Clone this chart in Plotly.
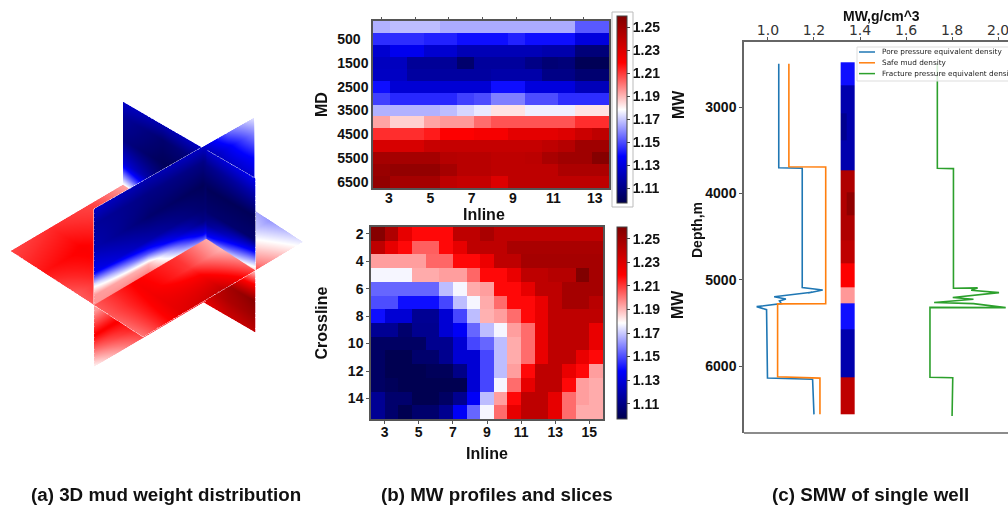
import plotly.graph_objects as go

W, H = 1008, 506
def px(x): return x / W
def py(y): return 1 - y / H

SEISMIC = [[0, "rgb(0,0,77)"], [0.25, "rgb(0,0,255)"], [0.5, "rgb(255,255,255)"], [0.75, "rgb(255,0,0)"], [1, "rgb(128,0,0)"]]
ZMIN, ZMAX = 1.097, 1.26
CB_TICKS = [1.11, 1.13, 1.15, 1.17, 1.19, 1.21, 1.23, 1.25]
FONT = "Liberation Sans"

# ---- panel (b) upper: MW by MD and inline
md = [0, 500, 1000, 1500, 2000, 2500, 3000, 3500, 4000, 4500, 5000, 5500, 6000, 6500]
profile_mw = [
 [1.166,1.168,1.168,1.168,1.165,1.165,1.165,1.165,1.165,1.165,1.165,1.165,1.152,1.152],
 [1.145,1.145,1.145,1.143,1.143,1.14,1.14,1.14,1.143,1.14,1.14,1.14,1.13,1.13],
 [1.127,1.134,1.134,1.127,1.127,1.121,1.121,1.121,1.121,1.121,1.119,1.119,1.107,1.107],
 [1.123,1.123,1.114,1.114,1.114,1.104,1.115,1.115,1.115,1.11,1.106,1.107,1.099,1.099],
 [1.124,1.124,1.116,1.116,1.116,1.116,1.116,1.118,1.118,1.118,1.11,1.11,1.105,1.105],
 [1.14,1.128,1.128,1.128,1.128,1.128,1.128,1.14,1.14,1.13,1.13,1.13,1.122,1.122],
 [1.148,1.144,1.144,1.144,1.144,1.148,1.15,1.158,1.158,1.15,1.15,1.145,1.145,1.145],
 [1.166,1.166,1.166,1.166,1.168,1.172,1.175,1.183,1.183,1.176,1.176,1.176,1.183,1.183],
 [1.193,1.186,1.186,1.193,1.195,1.195,1.202,1.206,1.206,1.206,1.206,1.206,1.212,1.212],
 [1.212,1.212,1.212,1.215,1.22,1.22,1.222,1.222,1.228,1.228,1.228,1.23,1.236,1.24],
 [1.232,1.232,1.232,1.237,1.238,1.238,1.238,1.238,1.238,1.238,1.24,1.243,1.25,1.25],
 [1.248,1.248,1.248,1.248,1.243,1.242,1.242,1.24,1.24,1.241,1.247,1.25,1.25,1.258],
 [1.252,1.254,1.254,1.254,1.248,1.242,1.242,1.24,1.24,1.24,1.24,1.246,1.246,1.246],
 [1.254,1.248,1.248,1.248,1.24,1.238,1.238,1.23,1.24,1.24,1.24,1.24,1.24,1.24],
]
profile_cols = list(range(14))
profile_tick_cols = [0.45, 2.9, 5.35, 7.8, 10.2, 12.65]
profile_tick_text = ["3", "5", "7", "9", "11", "13"]
md_ticks = [500, 1500, 2500, 3500, 4500, 5500, 6500]
md_tick_text = ["500\u00a0\u00a0", "1500", "2500", "3500", "4500", "5500", "6500"]

# ---- panel (b) lower: MW by crossline and inline
crossline = list(range(2, 16))
slice_cols = list(range(17))
slice_mw = [
 [1.258,1.245,1.227,1.218,1.218,1.218,1.24,1.24,1.247,1.24,1.24,1.24,1.24,1.24,1.24,1.24,1.24],
 [1.24,1.227,1.218,1.204,1.204,1.218,1.227,1.24,1.24,1.24,1.247,1.247,1.247,1.247,1.247,1.247,1.247],
 [1.194,1.194,1.194,1.194,1.203,1.203,1.218,1.218,1.225,1.24,1.24,1.248,1.248,1.248,1.248,1.248,1.248],
 [1.177,1.177,1.177,1.192,1.192,1.194,1.194,1.203,1.218,1.218,1.226,1.24,1.24,1.243,1.243,1.26,1.248],
 [1.154,1.154,1.154,1.154,1.154,1.168,1.177,1.192,1.194,1.218,1.218,1.227,1.24,1.24,1.248,1.248,1.248],
 [1.15,1.15,1.14,1.14,1.14,1.149,1.168,1.177,1.192,1.202,1.218,1.218,1.226,1.24,1.248,1.248,1.242],
 [1.14,1.128,1.128,1.113,1.113,1.128,1.149,1.168,1.191,1.194,1.202,1.218,1.226,1.24,1.24,1.24,1.24],
 [1.113,1.113,1.104,1.112,1.112,1.128,1.136,1.154,1.168,1.177,1.194,1.202,1.226,1.24,1.24,1.24,1.226],
 [1.102,1.102,1.102,1.102,1.112,1.112,1.128,1.149,1.154,1.168,1.192,1.202,1.226,1.24,1.24,1.24,1.226],
 [1.102,1.098,1.098,1.104,1.104,1.112,1.128,1.128,1.149,1.168,1.192,1.202,1.226,1.24,1.24,1.226,1.218],
 [1.102,1.098,1.098,1.098,1.1,1.1,1.11,1.128,1.149,1.168,1.194,1.218,1.24,1.24,1.226,1.218,1.194],
 [1.102,1.1,1.098,1.098,1.098,1.098,1.098,1.128,1.149,1.177,1.202,1.227,1.24,1.24,1.218,1.194,1.192],
 [1.113,1.104,1.104,1.098,1.098,1.102,1.112,1.136,1.168,1.194,1.218,1.24,1.24,1.227,1.202,1.194,1.192],
 [1.113,1.104,1.098,1.104,1.104,1.112,1.136,1.154,1.177,1.202,1.227,1.24,1.24,1.227,1.202,1.192,1.192],
]
slice_tick_cols = [0.5, 3.0, 5.5, 8.0, 10.5, 13.0, 15.5]
slice_tick_text = ["3", "5", "7", "9", "11", "13", "15"]
crossline_ticks = [2, 4, 6, 8, 10, 12, 14]

# ---- panel (c) single well
pore_x = [1.047,1.047,1.149,1.149,1.238,1.175,1.19,1.027,1.078,1.05,1.058,0.951,0.994,0.998,1.194,1.2]
pore_d = [2500,3703,3710,5090,5120,5155,5145,5197,5224,5247,5277,5312,5347,6140,6153,6560]
safe_x = [1.091,1.091,1.251,1.251,1.042,1.042,1.226,1.226]
safe_d = [2500,3692,3695,5277,5280,6125,6140,6560]
frac_x = [1.736,1.736,1.806,1.806,1.911,1.883,2.004,1.893,1.803,1.893,1.722,1.893,2.033,1.704,1.704,1.803,1.80]
frac_d = [2500,3710,3714,5100,5095,5123,5150,5180,5206,5226,5265,5277,5324,5321,6130,6136,6580]
strip_x = [1.316, 1.344, 1.375]
strip_d = [2482,2750,3070,3380,3730,3985,4250,4540,4810,5090,5277,5580,6125,6560]
strip_mw = [[1.14,1.14],[1.119,1.119],[1.112,1.119],[1.119,1.119],[1.245,1.245],[1.245,1.255],[1.245,1.245],
            [1.24,1.24],[1.22,1.22],[1.195,1.195],[1.14,1.14],[1.119,1.119],[1.24,1.24]]
well_names = ["Pore pressure equivalent density", "Safe mud density", "Fracture pressure equivalent density"]
well_colors = ["#1f77b4", "#ff7f0e", "#2ca02c"]

# ---- panel (a) three orthogonal slices
hz_p = [0, 0.25, 0.5, 0.75, 1]
hz_q = [0, 0.25, 0.5, 0.75, 1]
hz_mw = [[1.208,1.212,1.208,1.19,1.185],
         [1.216,1.22,1.212,1.19,1.18],
         [1.205,1.218,1.212,1.19,1.17],
         [1.205,1.222,1.21,1.185,1.162],
         [1.2,1.228,1.238,1.2,1.175]]
plane_w = [0, 0.1, 0.25, 0.4, 0.48, 0.55, 0.65, 0.8, 0.9, 1]
a_s = [0, 0.34, 0.68, 0.84, 1]
a_mw = [[1.125,1.12,1.125,1.155,1.175],[1.115,1.11,1.11,1.135,1.16],[1.12,1.105,1.10,1.12,1.14],[1.135,1.12,1.105,1.11,1.125],
        [1.175,1.15,1.11,1.12,1.13],[1.195,1.19,1.13,1.14,1.15],[1.195,1.205,1.18,1.18,1.18],[1.22,1.22,1.22,1.22,1.22],
        [1.2,1.22,1.23,1.23,1.23],[1.18,1.21,1.22,1.22,1.22]]
b_s = [0, 0.3, 0.59, 0.8, 1]
b_mw = [[1.125,1.12,1.125,1.13,1.135],[1.115,1.105,1.11,1.115,1.12],[1.11,1.10,1.10,1.10,1.10],[1.13,1.11,1.105,1.105,1.105],
        [1.16,1.13,1.11,1.125,1.14],[1.185,1.17,1.13,1.15,1.17],[1.2,1.2,1.18,1.195,1.205],[1.22,1.23,1.23,1.248,1.257],
        [1.22,1.235,1.235,1.245,1.25],[1.21,1.225,1.225,1.235,1.24]]
A_P, B_Q = 0.63, 0.70
A_TOP0, A_DROP, A_BOT = 96 / 154, 3 / 154, -62 / 154
B_TOP0, B_BOT0, B_RISE = 83 / 154, -71 / 154, 9 / 154

fig = go.Figure()
surf = dict(colorscale=SEISMIC, cmin=ZMIN, cmax=ZMAX, showscale=False, hoverinfo="skip",
            lighting=dict(ambient=1, diffuse=0, specular=0, roughness=1, fresnel=0), scene="scene")
def za(w, s): return (A_TOP0 - A_DROP * s) + (A_BOT - (A_TOP0 - A_DROP * s)) * w
def zb(w, s): return B_TOP0 + (B_BOT0 - B_TOP0) * w + B_RISE * s

fig.add_trace(go.Surface(x=[[p]*len(hz_q) for p in hz_p], y=[list(hz_q) for _ in hz_p],
                         z=[[0]*len(hz_q) for _ in hz_p], surfacecolor=hz_mw, **surf))
fig.add_trace(go.Surface(x=[[A_P]*len(a_s) for _ in plane_w], y=[list(a_s) for _ in plane_w],
                         z=[[za(w, s) for s in a_s] for w in plane_w], surfacecolor=a_mw, **surf))
fig.add_trace(go.Surface(x=[list(b_s) for _ in plane_w], y=[[B_Q]*len(b_s) for _ in plane_w],
                         z=[[zb(w, s) for s in b_s] for w in plane_w], surfacecolor=b_mw, **surf))
edge = dict(mode="lines", line=dict(color="rgba(235,235,255,0.75)", width=1.5), showlegend=False, hoverinfo="skip", scene="scene")
fig.add_trace(go.Scatter3d(x=[A_P]*5, y=[0,1,1,0,0], z=[za(0,0),za(0,1),za(1,1),za(1,0),za(0,0)], **edge))
fig.add_trace(go.Scatter3d(x=[0,1,1,0,0], y=[B_Q]*5, z=[zb(0,0),zb(0,1),zb(1,1),zb(1,0),zb(0,0)], **edge))
fig.add_trace(go.Scatter3d(x=[0,1,1,0,0], y=[0,0,1,1,0], z=[0]*5, **edge))

def cbar(top, length):
    return dict(x=px(617), xanchor="left", xpad=0, y=py(top), yanchor="top", ypad=0, len=length, lenmode="pixels",
                thickness=10, thicknessmode="pixels", outlinewidth=1, outlinecolor="#444", tickvals=CB_TICKS,
                ticktext=[f"{v:.2f}" for v in CB_TICKS], ticks="outside", ticklen=3, tickcolor="#444",
                tickfont=dict(family=FONT, size=14, color="#111", weight=700))

fig.add_trace(go.Heatmap(z=profile_mw, x=profile_cols, y=md, xaxis="x", yaxis="y", colorscale=SEISMIC,
                         zmin=ZMIN, zmax=ZMAX, colorbar=cbar(16, 187)))
fig.add_trace(go.Scatter(x=[0], y=[0], xaxis="x4", yaxis="y", mode="markers", marker=dict(opacity=0),
                         showlegend=False, hoverinfo="skip"))
fig.add_trace(go.Heatmap(z=slice_mw, x=slice_cols, y=crossline, xaxis="x2", yaxis="y2", colorscale=SEISMIC,
                         zmin=ZMIN, zmax=ZMAX, colorbar=cbar(227, 192)))
fig.add_trace(go.Heatmap(z=strip_mw, x=strip_x, y=strip_d, xaxis="x3", yaxis="y3", colorscale=SEISMIC,
                         zmin=ZMIN, zmax=ZMAX, showscale=False))
for name, xs, ds, c in zip(well_names, [pore_x, safe_x, frac_x], [pore_d, safe_d, frac_d], well_colors):
    fig.add_trace(go.Scatter(x=xs, y=ds, name=name, mode="lines", xaxis="x3", yaxis="y3", showlegend=False,
                             line=dict(color=c, width=1.6)))

tick = dict(family=FONT, size=14, color="#111", weight=700)
title_font = dict(family=FONT, size=16, color="#111", weight=700)
frame = dict(showline=True, linecolor="#555", linewidth=1.5, mirror=True, showgrid=False, zeroline=False)

def label(t, x, y, size=16, angle=0):
    return dict(text=f"<b>{t}</b>", x=px(x), y=py(y), xref="paper", yref="paper", showarrow=False, textangle=angle,
                xanchor="center", yanchor="middle", font=dict(family=FONT, size=size, color="#111"))

annotations = [label("(a) 3D mud weight distribution", 166, 494, 18.8),
               label("(b) MW profiles and slices", 497, 494, 18.8),
               label("(c) SMW of single well", 870, 494, 18.8),
               label("Inline", 484, 214), label("MW", 678, 105, 16, -90), label("MW", 677, 305, 16, -90),
               label("MW,g/cm^3", 881, 16, 14), label("Depth,m", 697, 230, 14, -90)]
legend_shapes = [dict(type="rect", xref="paper", yref="paper", x0=px(857), x1=px(1015), y0=py(81), y1=py(47),
                      fillcolor="rgba(255,255,255,0.8)", line=dict(color="#ddd", width=1), layer="above")]
for i, (n, c) in enumerate(zip(well_names, well_colors)):
    ly = 52 + 10.8 * i
    legend_shapes.append(dict(type="line", xref="paper", yref="paper", x0=px(859), x1=px(875), y0=py(ly), y1=py(ly),
                              line=dict(color=c, width=1.5), layer="above"))
    annotations.append(dict(text=n, x=px(880), y=py(ly), xref="paper", yref="paper", showarrow=False, xanchor="left", yanchor="middle",
                            font=dict(family="DejaVu Sans", size=7.3, color="#222")))

fig.update_layout(
    width=W, height=H, margin=dict(l=0, r=0, t=0, b=0, autoexpand=False), paper_bgcolor="white", plot_bgcolor="white",
    font=dict(family=FONT), showlegend=False,
    scene=dict(domain=dict(x=[0, px(314)], y=[py(434), py(34)]),
               xaxis=dict(visible=False, range=[0, 1]), yaxis=dict(visible=False, range=[0, 1]),
               zaxis=dict(visible=False, range=[B_BOT0, A_TOP0]),
               aspectmode="manual", aspectratio=dict(x=0.96, y=1.11, z=1.063),
               camera=dict(projection=dict(type="orthographic"), center=dict(x=0, y=0, z=0), up=dict(x=0, y=0, z=1),
                           eye=dict(x=0.5685 * 1.6, y=-0.5429 * 1.6, z=0.618 * 1.6)),
               bgcolor="rgba(0,0,0,0)"),
    xaxis=dict(domain=[px(373), px(609)], range=[-0.5, 13.5], anchor="y", tickvals=profile_tick_cols, ticktext=profile_tick_text,
               ticks="", tickfont=tick, ticklabelstandoff=-4, **frame),
    xaxis4=dict(domain=[px(373), px(609)], range=[-0.5, 13.5], anchor="y", overlaying="x", side="top", tickvals=list(range(0, 14, 2)),
                showticklabels=False, ticks="outside", ticklen=3, tickcolor="#555", showgrid=False, zeroline=False),
    yaxis=dict(domain=[py(188), py(21)], range=[6750, -250], anchor="x", tickvals=md_ticks, ticktext=md_tick_text, ticks="", tickfont=tick,
               ticksuffix=" ", title=dict(text="MD", font=title_font, standoff=6), **frame),
    xaxis2=dict(domain=[px(371), px(603)], range=[-0.5, 16.5], anchor="y2", tickvals=slice_tick_cols, ticktext=slice_tick_text,
                ticks="outside", ticklen=3, tickcolor="#555", tickfont=tick, ticklabelstandoff=-4,
                title=dict(text="Inline", font=title_font, standoff=9), **frame),
    yaxis2=dict(domain=[py(419), py(227)], range=[15.5, 1.5], anchor="x2", tickvals=crossline_ticks, ticks="outside", ticklen=3,
                tickcolor="#555", tickfont=tick, title=dict(text="Crossline", font=title_font, standoff=16), **frame),
    xaxis3=dict(domain=[px(744), 1], range=[0.896, 2.043], anchor="y3", side="top", tickvals=[1.0, 1.2, 1.4, 1.6, 1.8, 2.0],
                ticktext=["1.0", "1.2", "1.4", "1.6", "1.8", "2.0"], ticks="outside", ticklen=3, tickcolor="#555",
                tickfont=dict(family="DejaVu Sans", size=14, color="#333"), ticklabelstandoff=-3, ticklabeloverflow="allow",
                showline=True, linecolor="#666", linewidth=1.5, showgrid=False, zeroline=False),
    yaxis3=dict(domain=[py(433), py(42)], range=[6776, 2247], anchor="x3", tickvals=[3000, 4000, 5000, 6000], ticks="outside", ticklen=3,
                tickcolor="#555", tickfont=tick, showgrid=False, zeroline=False, showline=True, linecolor="#666", linewidth=1.5),
    shapes=[dict(type="rect", xref="paper", yref="paper", x0=px(612), x1=px(633), y0=py(207), y1=py(12), line=dict(color="#bbb", width=1)),
            dict(type="line", xref="paper", yref="paper", x0=px(744), x1=1, y0=py(433), y1=py(433), line=dict(color="#666", width=1.5))] + legend_shapes,
    annotations=annotations,
)

fig.write_html("out.html", config=dict(displayModeBar=False),
               post_script="document.body.style.margin='0';document.body.style.overflow='hidden';")
